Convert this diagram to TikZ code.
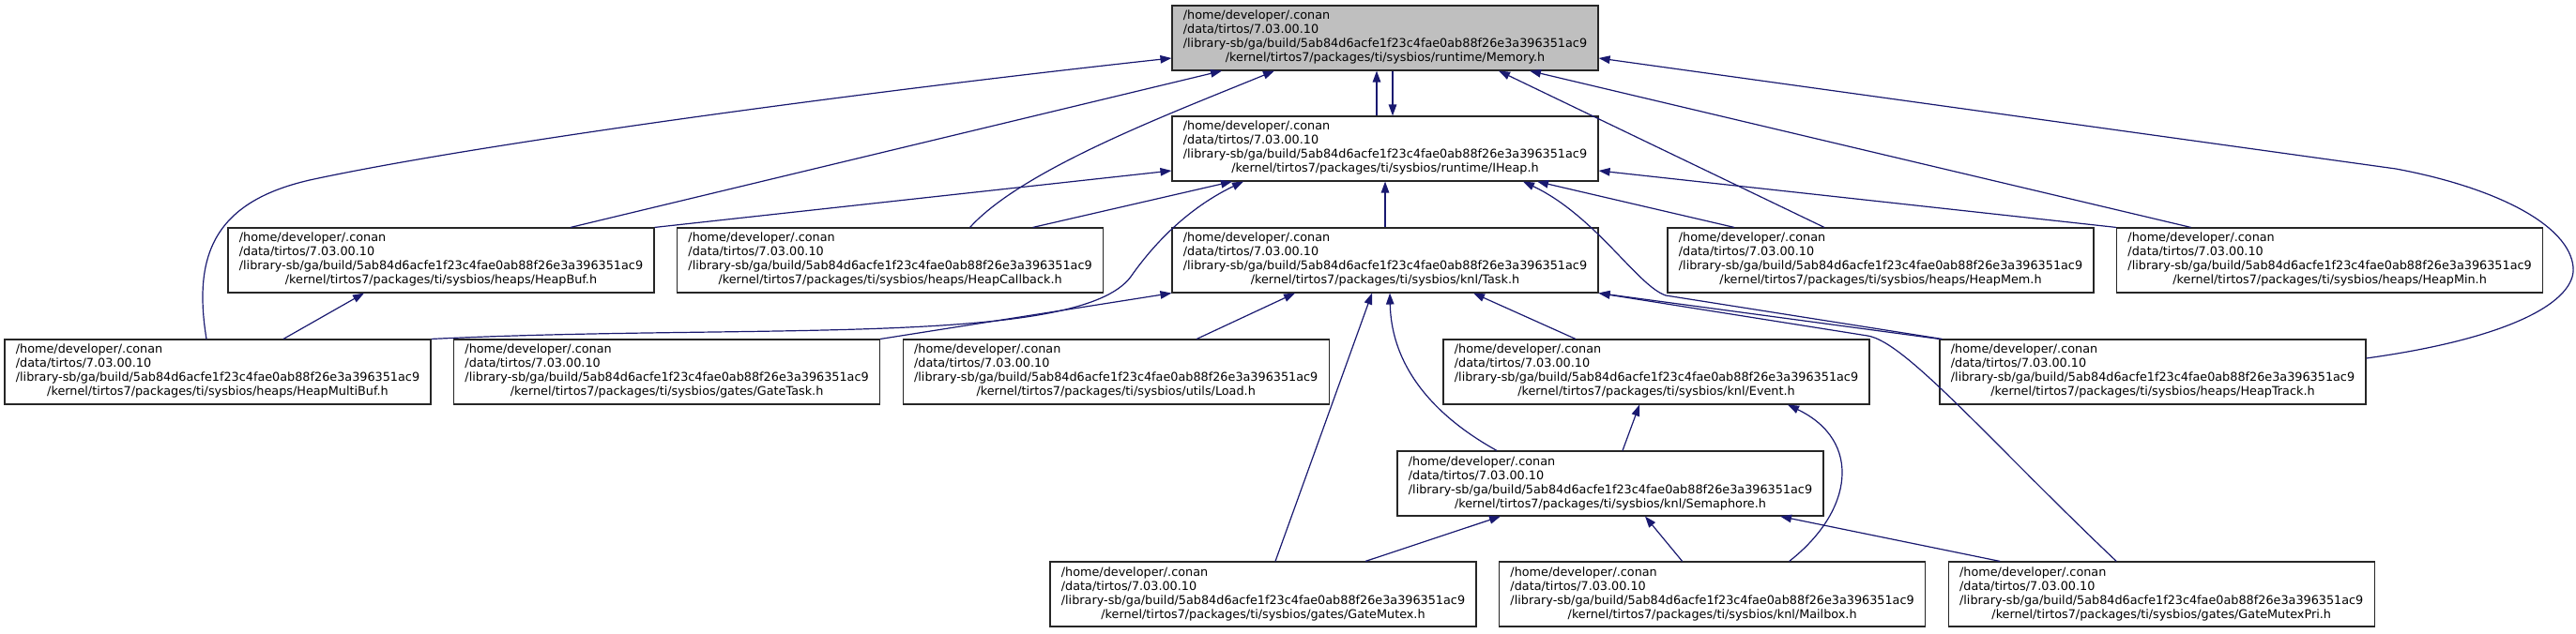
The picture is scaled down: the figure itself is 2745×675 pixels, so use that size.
\documentclass[tikz,border=0pt]{standalone}
\usepackage{fontspec}
\setmainfont{DejaVu Sans}
\usepackage{xcolor}
\usetikzlibrary{arrows.meta,positioning}
\definecolor{edgeblue}{HTML}{191970}
\tikzset{
  incarr/.style={-{Triangle[length=12pt,width=8.5pt]}, line width=1.2pt, draw=edgeblue},
  incnode/.style={draw=black!85, line width=1.1pt, fill=white, minimum width=454pt, minimum height=69pt, inner xsep=4pt, inner ysep=2pt},
}
\newcommand{\incpath}[1]{%
  \begin{tabular}{@{}l@{}}
    /home/developer/.conan\\
    /data/tirtos/7.03.00.10\\
    /library-sb/ga/build/5ab84d6acfe1f23c4fae0ab88f26e3a396351ac9\\
    \multicolumn{1}{@{}c@{}}{/kernel/tirtos7/packages/ti/sysbios/#1}
  \end{tabular}}

\begin{document}
\begin{tikzpicture}[
  x=1pt, y=1pt,
  font=\fontsize{12.8}{15}\selectfont,
  incroot/.style={incnode, fill=black!25},
]
  \useasboundingbox (0,0) rectangle (2745,675);
  % rows, top to bottom
  \node[incroot] (Mem) at (1476,634.5) {\incpath{runtime/Memory.h}};
  \node[incnode] (IHp) at (1476,516.5) {\incpath{runtime/IHeap.h}};
  \node[incnode] (HBuf) at (470,397.5) {\incpath{heaps/HeapBuf.h}};
  \node[incnode, right=23.5pt of HBuf] (HCb) {\incpath{heaps/HeapCallback.h}};
  \node[incnode] (Task) at (1476,397.5) {\incpath{knl/Task.h}};
  \node[incnode] (HMem) at (2004,397.5) {\incpath{heaps/HeapMem.h}};
  \node[incnode, right=23.5pt of HMem] (HMin) {\incpath{heaps/HeapMin.h}};
  \node[incnode] (HMBuf) at (232,278.5) {\incpath{heaps/HeapMultiBuf.h}};
  \node[incnode, right=23.5pt of HMBuf] (GTask) {\incpath{gates/GateTask.h}};
  \node[incnode, right=23.5pt of GTask] (Load) {\incpath{utils/Load.h}};
  \node[incnode] (Evt) at (1765,278.5) {\incpath{knl/Event.h}};
  \node[incnode] (HTrk) at (2294,278.5) {\incpath{heaps/HeapTrack.h}};
  \node[incnode] (Sem) at (1716,159.5) {\incpath{knl/Semaphore.h}};
  \node[incnode] (GMtx) at (1346,41.5) {\incpath{gates/GateMutex.h}};
  \node[incnode, right=23.5pt of GMtx] (Mbx) {\incpath{knl/Mailbox.h}};
  \node[incnode, right=23.5pt of Mbx] (GMtxP) {\incpath{gates/GateMutexPri.h}};

  % Memory.h
  \draw[incarr] ([xshift=-9pt]IHp.north) -- ([xshift=-9pt]Mem.south);
  \draw[incarr] ([xshift=8pt]Mem.south) -- ([xshift=8pt]IHp.north);
  \draw[incarr] ([xshift=-12pt]HMBuf.north) .. controls (205,405) and (230,460) .. (330,483)
    .. controls (500,520) and (900,575) .. ([yshift=-21.5pt]Mem.west);
  \draw[incarr] ([xshift=138pt]HBuf.north) -- ([xshift=-174pt]Mem.south);
  \draw[incarr] ([xshift=85pt]HCb.north) .. controls (1090,495) and (1250,555) .. ([xshift=-118pt]Mem.south);
  \draw[incarr] ([xshift=-60pt]HMem.north) -- ([xshift=121pt]Mem.south);
  \draw[incarr] ([xshift=-148pt]HMin.north) -- ([xshift=154pt]Mem.south);
  \draw[incarr] ([yshift=14.5pt]HTrk.east) .. controls (2680,315) and (2745,355) .. (2742,390)
    .. controls (2738,435) and (2660,475) .. (2553,495) -- ([yshift=-21.5pt]Mem.east);

  % IHeap.h
  \draw[incarr] (HBuf.north east) -- ([yshift=-23.5pt]IHp.west);
  \draw[incarr] ([xshift=152pt]HCb.north) -- ([xshift=-163pt]IHp.south);
  \draw[incarr] (HMBuf.north east) .. controls (800,330) and (1150,305) .. (1205,380)
    .. controls (1240,430) and (1280,460) .. ([xshift=-151pt]IHp.south);
  \draw[incarr] (Task.north) -- (IHp.south);
  \draw[incarr] ([xshift=-156pt]HMem.north) -- ([xshift=162pt]IHp.south);
  \draw[incarr] (HMin.north west) -- ([yshift=-23.5pt]IHp.east);
  \draw[incarr] ([xshift=3pt]HTrk.north west) -- (1775,360) .. controls (1745,370) and (1700,445) .. ([xshift=147pt]IHp.south);

  \draw[incarr] ([xshift=70pt]HMBuf.north) -- ([xshift=-82pt]HBuf.south);

  % Task.h
  \draw[incarr] (GTask.north east) -- (Task.south west);
  \draw[incarr] ([xshift=86pt]Load.north) -- ([xshift=-96pt]Task.south);
  \draw[incarr] ([xshift=-86pt]Evt.north) -- ([xshift=94pt]Task.south);
  \draw[incarr] ([xshift=13pt]GMtx.north) -- ([xshift=-14pt]Task.south);
  \draw[incarr] ([xshift=-121pt]Sem.north) .. controls (1540,225) and (1483,275) .. ([xshift=5pt]Task.south);
  \draw[incarr] (HTrk.north west) -- (Task.south east);
  \draw[incarr] ([xshift=-48pt]GMtxP.north) .. controls (2120,205) and (2030,311) .. (1990,317) -- (Task.south east);

  % Event.h, Semaphore.h
  \draw[incarr] ([xshift=13pt]Sem.north) -- ([xshift=-18pt]Evt.south);
  \draw[incarr] ([xshift=82pt]Mbx.north) .. controls (1975,130) and (1985,205) .. ([xshift=140pt]Evt.south);
  \draw[incarr] ([xshift=109pt]GMtx.north) -- ([xshift=-117pt]Sem.south);
  \draw[incarr] ([xshift=-32pt]Mbx.north) -- ([xshift=37pt]Sem.south);
  \draw[incarr] ([xshift=-172pt]GMtxP.north) -- ([xshift=181pt]Sem.south);
\end{tikzpicture}
\end{document}
